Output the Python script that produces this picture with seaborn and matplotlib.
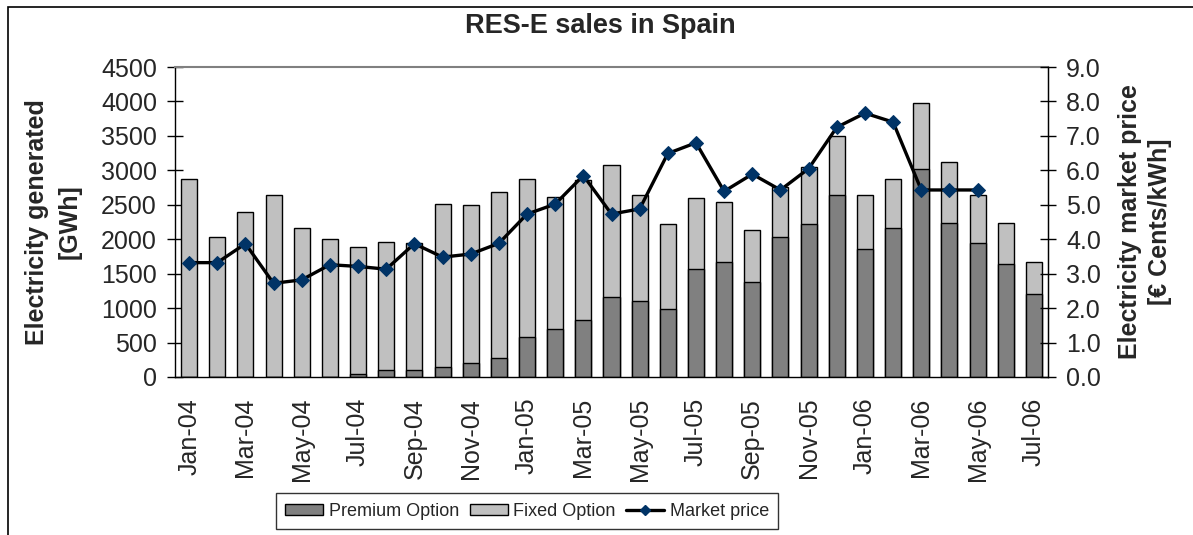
import numpy as np
import matplotlib
matplotlib.use("Agg")
import matplotlib.pyplot as plt
from matplotlib.patches import Patch, Rectangle
from matplotlib.lines import Line2D
from matplotlib.ticker import FormatStrFormatter
import seaborn as sns

months = ["Jan-04", "Feb-04", "Mar-04", "Apr-04", "May-04", "Jun-04", "Jul-04", "Aug-04",
          "Sep-04", "Oct-04", "Nov-04", "Dec-04", "Jan-05", "Feb-05", "Mar-05", "Apr-05",
          "May-05", "Jun-05", "Jul-05", "Aug-05", "Sep-05", "Oct-05", "Nov-05", "Dec-05",
          "Jan-06", "Feb-06", "Mar-06", "Apr-06", "May-06", "Jun-06", "Jul-06"]

# GWh per month
premium = [0, 0, 0, 0, 0, 0, 48, 102, 102, 150, 198, 271, 576, 701, 827, 1157,
           1108, 982, 1563, 1664, 1383, 2036, 2215, 2641, 1857, 2167, 3019, 2240,
           1940, 1640, 1205]
fixed = [2873, 2036, 2390, 2641, 2167, 2008, 1834, 1862, 1838, 2365, 2294, 2419,
         2297, 1916, 2032, 1915, 1538, 1233, 1030, 881, 750, 726, 827, 857, 784,
         706, 962, 885, 701, 600, 460]

# euro cents / kWh, Jan-04 .. May-06
price = [3.32, 3.32, 3.87, 2.72, 2.82, 3.26, 3.21, 3.13, 3.87, 3.48, 3.57, 3.88,
         4.73, 5.02, 5.85, 4.73, 4.88, 6.49, 6.80, 5.39, 5.89, 5.43, 6.05, 7.25,
         7.66, 7.40, 5.43, 5.43, 5.43]

PREMIUM_C = "#808080"
FIXED_C = "#C0C0C0"
MARKER_C = "#003366"
FS = 18

sns.set_style("white")
plt.rcParams["font.family"] = ["Liberation Sans", "DejaVu Sans"]

fig = plt.figure(figsize=(11.93, 5.35), dpi=100)
ax = fig.add_axes([175 / 1193, 158 / 535, 873 / 1193, 310 / 535])

total = np.array(premium) + np.array(fixed)
sns.barplot(x=months, y=total, color=FIXED_C, saturation=1, width=0.57,
            edgecolor="black", linewidth=1.0, ax=ax)
sns.barplot(x=months, y=premium, color=PREMIUM_C, saturation=1, width=0.57,
            edgecolor="black", linewidth=1.0, ax=ax)

ax.set_ylim(0, 4500)
ax.set_yticks(np.arange(0, 4501, 500))
ax.set_xticks(np.arange(0, len(months), 2))
ax.set_xticklabels(months[::2], rotation=90, fontsize=FS)
ax.set_xticks(np.arange(-0.5, len(months), 1), minor=True)
ax.tick_params(axis="x", which="major", length=0, pad=15)
ax.tick_params(axis="x", which="minor", length=6, direction="out", width=1, color="black")
ax.tick_params(axis="y", length=12, direction="inout", width=1, color="black",
               labelsize=FS, pad=7, left=True)
ax.set_xlabel("")

for s in ["left", "bottom"]:
    ax.spines[s].set_color("black")
    ax.spines[s].set_linewidth(1)
ax.spines["top"].set_color("#808080")
ax.spines["top"].set_linewidth(1.5)

ax.set_ylabel("Electricity generated\n[GWh]", fontsize=FS, fontweight="bold",
              ha="center", va="center", multialignment="center", linespacing=1.45)
ax.yaxis.set_label_coords((53 - 175) / 873, 0.5)

ax2 = ax.twinx()
sns.lineplot(x=np.arange(len(price)), y=price, color="black", linewidth=2.4,
             marker="D", markersize=7, markerfacecolor=MARKER_C,
             markeredgecolor=MARKER_C, legend=False, ax=ax2)
ax2.set_ylim(0, 9)
ax2.set_yticks(np.arange(0, 9.01, 1.0))
ax2.yaxis.set_major_formatter(FormatStrFormatter("%.1f"))
ax2.tick_params(axis="y", length=12, direction="inout", width=1, color="black",
                labelsize=FS, pad=7, right=True)
ax2.spines["right"].set_color("black")
ax2.spines["right"].set_linewidth(1)
for s in ["top", "left", "bottom"]:
    ax2.spines[s].set_visible(False)
ax2.set_ylabel("Electricity market price\n[€ Cents/kWh]", fontsize=FS,
               fontweight="bold", ha="center", va="center", multialignment="center",
               rotation=90, linespacing=1.3)
ax2.yaxis.set_label_coords((1145 - 175) / 873, 0.5)
ax.set_xlim(-0.5, len(months) - 0.5)

fig.suptitle("RES-E sales in Spain", x=600 / 1193, y=1 - 26 / 535, va="center",
             fontsize=19.5, fontweight="bold")

handles = [
    Patch(facecolor=PREMIUM_C, edgecolor="black", linewidth=1, label="Premium Option"),
    Patch(facecolor=FIXED_C, edgecolor="black", linewidth=1, label="Fixed Option"),
    Line2D([], [], color="black", linewidth=2.4, marker="D", markersize=5,
           markerfacecolor=MARKER_C, markeredgecolor=MARKER_C, label="Market price"),
]
leg = fig.legend(handles=handles, loc="center", bbox_to_anchor=(527 / 1193, 24 / 535),
                 ncol=3, fontsize=13, frameon=True, fancybox=False,
                 handlelength=2.1, handleheight=0.55, handletextpad=0.3,
                 columnspacing=0.6, borderpad=0.5)
leg.get_frame().set_edgecolor("black")
leg.get_frame().set_linewidth(1)

# outer chart border (only left and top edges fall inside the image)
fig.patches.append(Rectangle((8 / 1193, -0.1), 1.2, 1.1 - 7.5 / 535,
                             transform=fig.transFigure, fill=False,
                             edgecolor="black", linewidth=1.2))

fig.savefig("out.png", dpi=100)
